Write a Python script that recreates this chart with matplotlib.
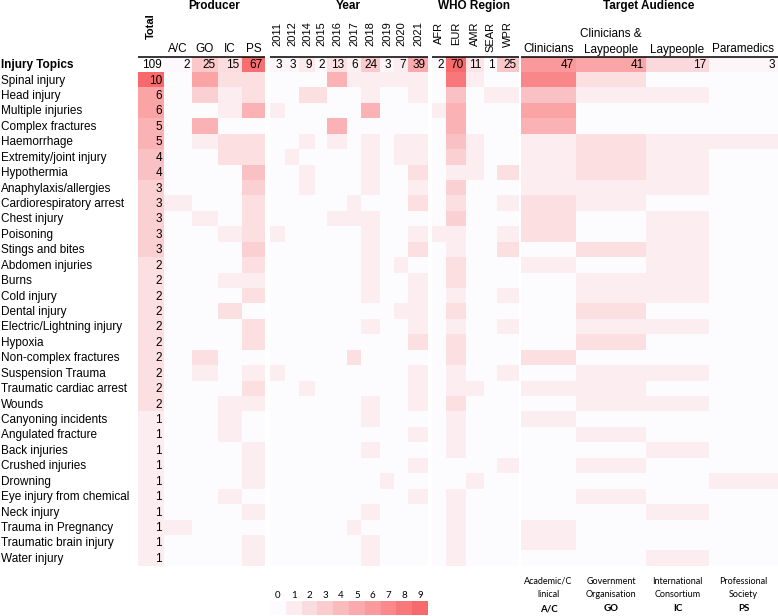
import numpy as np
import matplotlib
matplotlib.use("Agg")
import matplotlib.pyplot as plt
from matplotlib.colors import LinearSegmentedColormap, Normalize

plt.rcParams['font.family'] = ['Liberation Sans', 'DejaVu Sans']

# ---- data ----
topics = [
    "Spinal injury", "Head injury", "Multiple injuries", "Complex fractures",
    "Haemorrhage", "Extremity/joint injury", "Hypothermia", "Anaphylaxis/allergies",
    "Cardiorespiratory arrest", "Chest injury", "Poisoning", "Stings and bites",
    "Abdomen injuries", "Burns", "Cold injury", "Dental injury",
    "Electric/Lightning injury", "Hypoxia", "Non-complex fractures", "Suspension Trauma",
    "Traumatic cardiac arrest", "Wounds", "Canyoning incidents", "Angulated fracture",
    "Back injuries", "Crushed injuries", "Drowning", "Eye injury from chemical",
    "Neck injury", "Trauma in Pregnancy", "Traumatic brain injury", "Water injury",
]
totals = [10, 6, 6, 5, 5, 4, 4, 3, 3, 3, 3, 3, 2, 2, 2, 2,
          2, 2, 2, 2, 2, 2, 1, 1, 1, 1, 1, 1, 1, 1, 1, 1]

producer_labels = ["A/C", "GO", "IC", "PS"]
producer_totals = [2, 25, 15, 67]
producer_counts = [
    [0, 6, 2, 2], [0, 3, 1, 2], [0, 0, 1, 5], [0, 5, 0, 0],
    [0, 1, 2, 2], [0, 0, 2, 2], [0, 0, 0, 4], [0, 0, 0, 3],
    [1, 0, 0, 2], [0, 1, 0, 2], [0, 0, 1, 2], [0, 0, 0, 3],
    [0, 0, 0, 2], [0, 0, 1, 1], [0, 0, 0, 2], [0, 0, 2, 0],
    [0, 0, 0, 2], [0, 0, 0, 2], [0, 2, 0, 0], [0, 1, 0, 1],
    [0, 0, 0, 2], [0, 0, 1, 1], [0, 0, 1, 0], [0, 0, 1, 0],
    [0, 0, 0, 1], [0, 0, 0, 1], [0, 0, 0, 1], [0, 0, 1, 0],
    [0, 0, 0, 1], [1, 0, 0, 0], [0, 0, 0, 1], [0, 0, 0, 1],
]

year_labels = ["2011", "2012", "2014", "2015", "2016", "2017", "2018", "2019", "2020", "2021"]
year_totals = [3, 3, 9, 2, 13, 6, 24, 3, 7, 39]
year_counts = [
    [0, 0, 0, 0, 5, 1, 1, 1, 1, 1],
    [0, 0, 2, 2, 0, 0, 1, 0, 0, 1],
    [1, 0, 0, 0, 0, 0, 5, 0, 0, 0],
    [0, 0, 0, 0, 5, 0, 0, 0, 0, 0],
    [0, 0, 1, 0, 1, 0, 1, 0, 1, 1],
    [0, 1, 0, 0, 0, 0, 1, 0, 1, 1],
    [0, 0, 1, 0, 0, 0, 1, 0, 0, 2],
    [0, 0, 1, 0, 0, 0, 1, 0, 0, 1],
    [0, 0, 0, 0, 0, 1, 0, 0, 0, 2],
    [0, 0, 0, 0, 1, 1, 1, 0, 0, 0],
    [1, 0, 0, 0, 0, 0, 1, 0, 0, 1],
    [0, 0, 0, 0, 0, 0, 1, 0, 0, 2],
    [0, 0, 0, 0, 0, 0, 1, 0, 1, 0],
    [0, 0, 0, 0, 0, 0, 1, 0, 0, 1],
    [0, 0, 0, 0, 0, 0, 1, 0, 0, 1],
    [0, 0, 0, 0, 0, 0, 0, 0, 1, 1],
    [0, 0, 0, 0, 0, 0, 1, 0, 0, 1],
    [0, 0, 0, 0, 0, 0, 0, 0, 0, 2],
    [0, 0, 0, 0, 0, 2, 0, 0, 0, 0],
    [1, 0, 0, 0, 0, 0, 0, 0, 0, 1],
    [0, 0, 1, 0, 0, 0, 0, 0, 0, 1],
    [0, 0, 0, 0, 0, 0, 1, 0, 0, 1],
    [0, 0, 0, 0, 0, 0, 1, 0, 0, 0],
    [0, 0, 0, 0, 0, 0, 0, 0, 0, 1],
    [0, 0, 0, 0, 0, 0, 1, 0, 0, 0],
    [0, 0, 0, 0, 0, 0, 0, 0, 0, 1],
    [0, 0, 0, 0, 0, 0, 0, 1, 0, 0],
    [0, 0, 0, 0, 0, 0, 0, 0, 0, 1],
    [0, 0, 0, 0, 0, 0, 1, 0, 0, 0],
    [0, 0, 0, 0, 0, 1, 0, 0, 0, 0],
    [0, 0, 0, 0, 0, 0, 1, 0, 0, 0],
    [0, 0, 0, 0, 0, 0, 1, 0, 0, 0],
]

region_labels = ["AFR", "EUR", "AMR", "SEAR", "WPR"]
region_totals = [2, 70, 11, 1, 25]
region_counts = [
    [0, 9, 1, 0, 0], [0, 4, 0, 1, 1], [1, 5, 0, 0, 0], [0, 5, 0, 0, 0],
    [0, 4, 1, 0, 0], [0, 3, 1, 0, 0], [0, 1, 1, 0, 2], [0, 3, 0, 0, 0],
    [0, 2, 0, 0, 1], [0, 3, 0, 0, 0], [1, 1, 0, 0, 1], [0, 1, 0, 0, 2],
    [0, 2, 0, 0, 0], [0, 2, 0, 0, 0], [0, 1, 0, 0, 1], [0, 2, 0, 0, 0],
    [0, 1, 0, 0, 1], [0, 2, 0, 0, 0], [0, 2, 0, 0, 0], [0, 1, 0, 0, 1],
    [0, 1, 1, 0, 0], [0, 2, 0, 0, 0], [0, 1, 0, 0, 0], [0, 1, 0, 0, 0],
    [0, 1, 0, 0, 0], [0, 0, 0, 0, 1], [0, 0, 1, 0, 0], [0, 1, 0, 0, 0],
    [0, 1, 0, 0, 0], [0, 1, 0, 0, 0], [0, 1, 0, 0, 0], [0, 1, 0, 0, 0],
]

audience_labels = ["Clinicians", "Clinicians &\nLaypeople", "Laypeople", "Paramedics"]
audience_totals = [47, 41, 17, 3]
audience_counts = [
    [8, 2, 0, 0], [4, 1, 1, 0], [6, 0, 0, 0], [5, 0, 0, 0],
    [1, 2, 1, 1], [1, 2, 1, 0], [1, 2, 1, 0], [1, 1, 1, 0],
    [2, 1, 0, 0], [2, 0, 1, 0], [2, 0, 1, 0], [0, 2, 1, 0],
    [1, 0, 1, 0], [0, 1, 1, 0], [0, 1, 1, 0], [0, 2, 0, 0],
    [0, 1, 1, 0], [0, 2, 0, 0], [2, 0, 0, 0], [0, 1, 1, 0],
    [1, 1, 0, 0], [0, 1, 1, 0], [1, 0, 0, 0], [0, 1, 0, 0],
    [0, 0, 1, 0], [0, 1, 0, 0], [0, 0, 0, 1], [0, 1, 0, 0],
    [0, 0, 1, 0], [1, 0, 0, 0], [1, 0, 0, 0], [0, 0, 1, 0],
]

total_guidelines = 109
legend_values = list(range(10))
producer_full = [("Academic/C", "linical"), ("Government", "Organisation"),
                 ("International", "Consortium"), ("Professional", "Society")]

# ---- layout (pixels) ----
W, H = 778, 616
row_h = 15.43
head_top = 56.6
body_top = head_top + row_h
total_edges = [138, 164]
prod_edges = [164, 192, 218, 242, 265]
year_edges = [270, 285, 299, 315, 327, 347, 361, 380, 394, 408, 428]
region_edges = [432, 446, 466, 484, 497, 519]
aud_edges = [521, 576, 646, 709, 778]

cmap = LinearSegmentedColormap.from_list("excel", ["#FCFCFF", "#F8696B"])
cmap.set_bad("white")
body_norm = Normalize(0, 10)
head_norm = Normalize(0, 70)

fig = plt.figure(figsize=(W / 100, H / 100), dpi=100)
ax = fig.add_axes([0, 0, 1, 1])
ax.set_xlim(0, W)
ax.set_ylim(H, 0)
ax.axis("off")

n = len(topics)
body_y = body_top + row_h * np.arange(n + 1)
head_y = [head_top, body_top]
FS = 8.5

# body heatmap blocks
groups = [
    (total_edges, np.array(totals)[:, None]),
    (prod_edges, np.array(producer_counts)),
    (year_edges, np.array(year_counts)),
    (region_edges, np.array(region_counts)),
    (aud_edges, np.array(audience_counts)),
]
for edges, mat in groups:
    ax.pcolormesh(edges, body_y, mat, cmap=cmap, norm=body_norm)

# header row
head_groups = [
    (total_edges, [np.nan], [total_guidelines]),
    (prod_edges, producer_totals, producer_totals),
    (year_edges, year_totals, year_totals),
    (region_edges, region_totals, region_totals),
    (aud_edges, audience_totals, audience_totals),
]
for edges, vals, labels in head_groups:
    m = np.ma.masked_invalid(np.array(vals, dtype=float)[None, :])
    ax.pcolormesh(edges, head_y, m, cmap=cmap, norm=head_norm)
    for j, lab in enumerate(labels):
        ax.text(edges[j + 1] - 2.5, (head_top + body_top) / 2 + 0.5, str(lab),
                ha="right", va="center", fontsize=FS)

# row labels and totals
ax.text(1, (head_top + body_top) / 2 + 0.5, "Injury Topics", ha="left", va="center",
        fontsize=FS, fontweight="bold")
for i, (t, v) in enumerate(zip(topics, totals)):
    yc = body_y[i] + row_h / 2 + 0.8
    ax.text(1, yc, t, ha="left", va="center", fontsize=FS)
    ax.text(total_edges[1] - 2, yc, str(v), ha="right", va="center", fontsize=FS)

# column labels
def centers(edges):
    return [(a + b) / 2 for a, b in zip(edges[:-1], edges[1:])]

ax.text(centers(total_edges)[0], 13, "Total", rotation=90, ha="center", va="top",
        fontsize=8, fontweight="bold")
for x, lab in zip(centers(prod_edges), producer_labels):
    ax.text(x, 55.5, lab, ha="center", va="bottom", fontsize=FS)
for x, lab in zip(centers(year_edges), year_labels):
    ax.text(x, 21.5, lab, rotation=90, ha="center", va="top", fontsize=8)
for x, lab in zip(centers(region_edges), region_labels):
    ax.text(x, 21.5, lab, rotation=90, ha="center", va="top", fontsize=8)
for x, lab in zip(centers(aud_edges), audience_labels):
    ax.text(x, 55.5, lab, ha="center", va="bottom", fontsize=FS, linespacing=1.35)

# group titles
for x, lab in [(214, "Producer"), (348, "Year"), (474, "WHO Region"), (649, "Target Audience")]:
    ax.text(x, 6, lab, ha="center", va="center", fontsize=FS, fontweight="bold")

# header rules
for a, b in [(total_edges[0], prod_edges[-1]), (year_edges[0], year_edges[-1]),
             (region_edges[0], region_edges[-1]), (aud_edges[0], aud_edges[-1])]:
    ax.plot([a, b], [head_top, head_top], color="black", lw=1.1, solid_capstyle="butt")

# colour legend under the year columns
leg_edges = np.linspace(year_edges[0], year_edges[-1], len(legend_values) + 1)
ax.pcolormesh(leg_edges, [601, 615], np.array(legend_values)[None, :], cmap=cmap,
              norm=Normalize(0, 9))
for x, v in zip(centers(leg_edges), legend_values):
    ax.text(x, 595, str(v), ha="center", va="center", fontsize=7, family="Lato")

# producer abbreviations key under the audience columns
for x, (l1, l2), ab in zip(centers(aud_edges), producer_full, producer_labels):
    ax.text(x, 581, l1, ha="center", va="center", fontsize=6.5, family="Lato")
    ax.text(x, 594.5, l2, ha="center", va="center", fontsize=6.5, family="Lato")
    ax.text(x, 608.5, ab, ha="center", va="center", fontsize=7, family="Lato",
            fontweight="bold")

fig.savefig("out.png", dpi=100, facecolor="white")
